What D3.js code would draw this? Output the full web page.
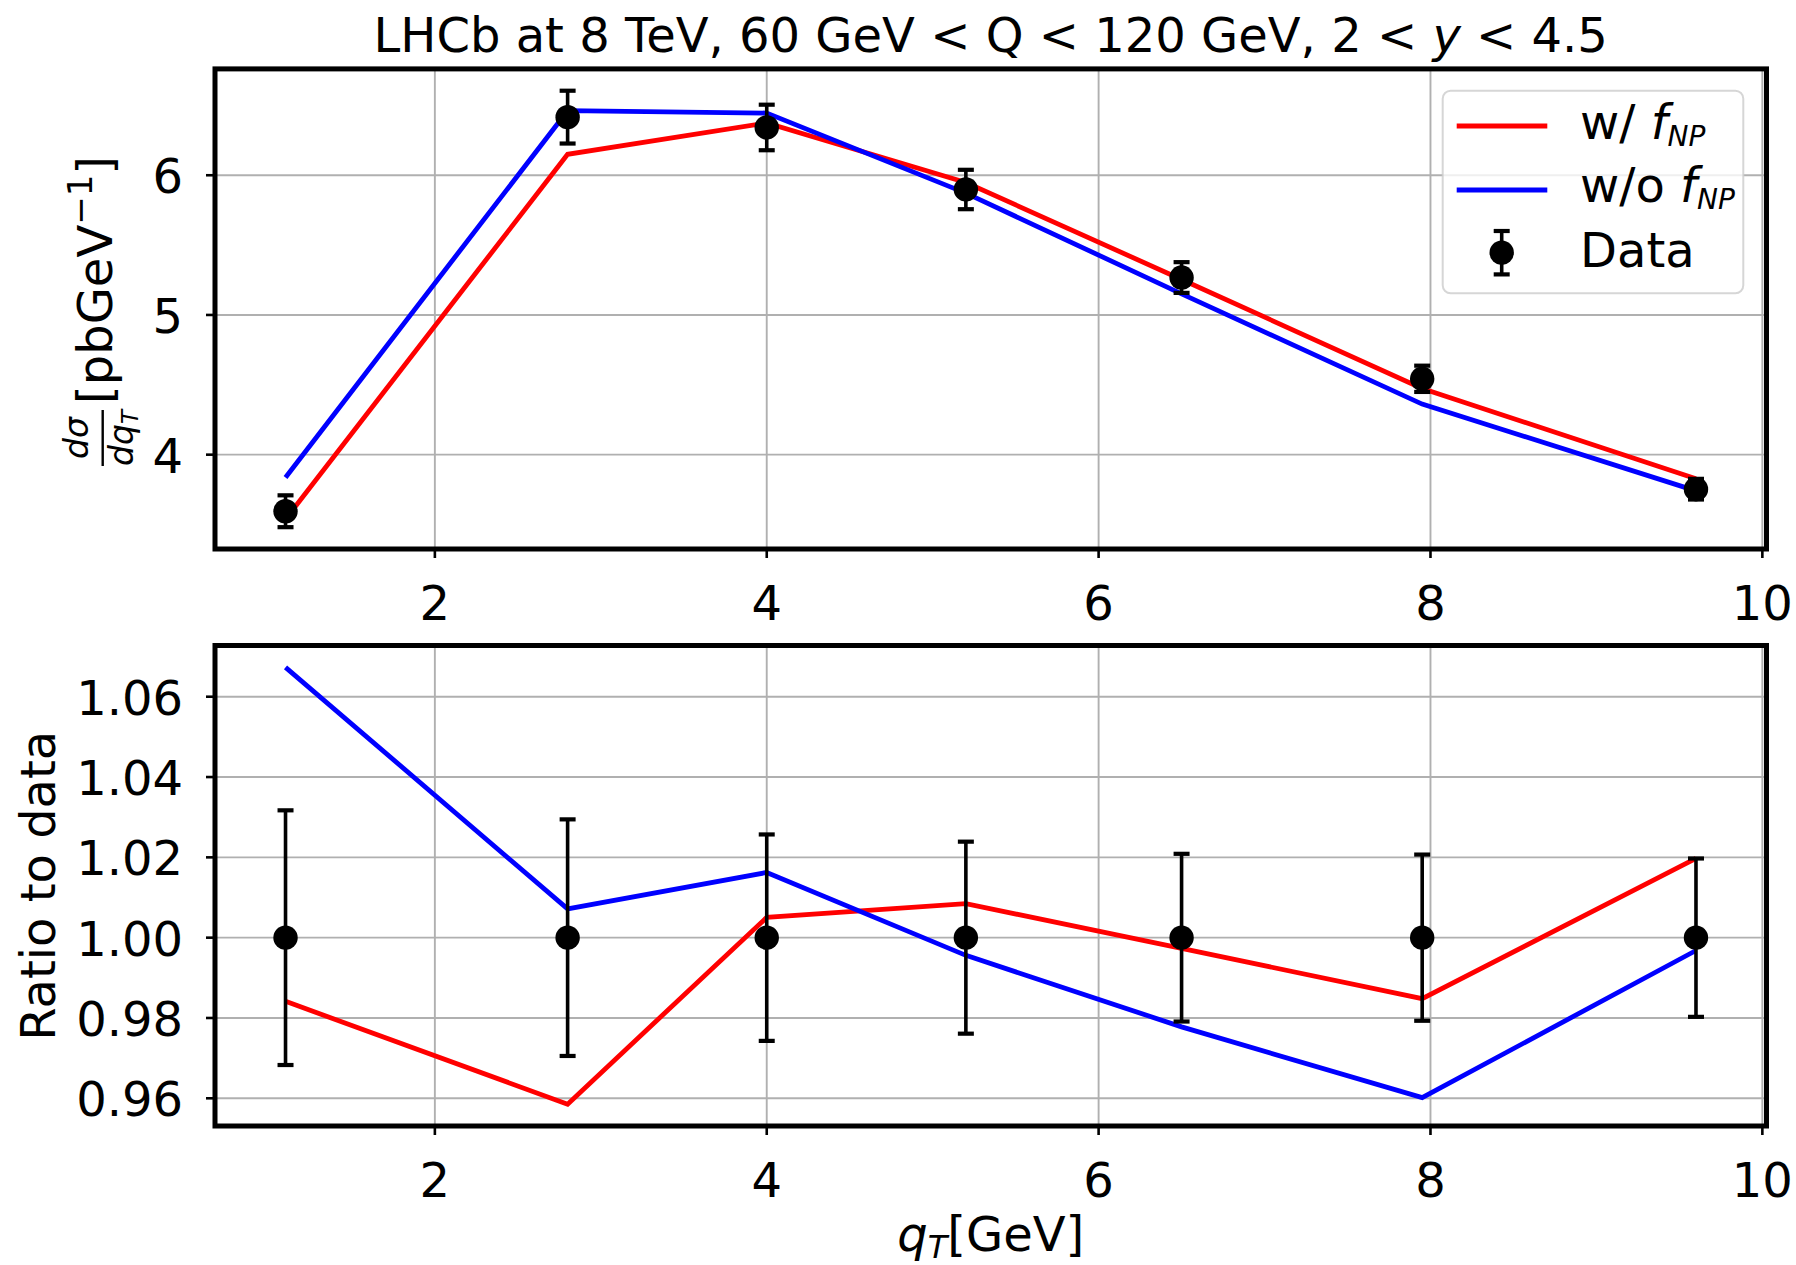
<!DOCTYPE html>
<html>
<head>
<meta charset="utf-8">
<script src="https://cdn.jsdelivr.net/npm/d3@7"></script>
<style>
  html, body { margin: 0; padding: 0; background: #ffffff; }
  svg { display: block; }
  text { font-family: "DejaVu Sans", sans-serif; fill: #000; }
</style>
</head>
<body>
<script>
// Bin centres of the LHCb 8 TeV Z-boson q_T spectrum (GeV)
const qT = [1.1, 2.8, 4.0, 5.2, 6.5, 7.95, 9.6];
// Measured dσ/dq_T (pb/GeV) and its uncertainty
const dataXS = [3.595, 6.416, 6.342, 5.898, 5.268, 4.543, 3.753];
const dataErr = [0.114, 0.189, 0.163, 0.141, 0.110, 0.094, 0.074];
// Predictions with and without the non-perturbative factor f_NP
const withFNP = [3.538, 6.150, 6.374, 5.948, 5.254, 4.474, 3.827];
const withoutFNP = [3.837, 6.462, 6.445, 5.872, 5.151, 4.362, 3.741];
// Tick values
const xTicks = [2, 4, 6, 8, 10];
const yTicksXS = [4, 5, 6];
const yTicksRatio = [0.96, 0.98, 1.00, 1.02, 1.04, 1.06];

const W = 1796, H = 1265;
const left = 215, right = 1766.5;
const topPanel = { top: 68.9, bottom: 549 };
const ratioPanel = { top: 645.5, bottom: 1126 };

const svg = d3.select("body").append("svg")
  .attr("width", W).attr("height", H)
  .attr("viewBox", `0 0 ${W} ${H}`);
svg.append("rect").attr("width", W).attr("height", H).attr("fill", "#fff");

// Axis range padded by 5% on each side, like the default autoscale
function padded(lo, hi) {
  const m = (hi - lo) * 0.05;
  return [lo - m, hi + m];
}

const x = d3.scaleLinear().domain(padded(d3.min(qT), d3.max(qT))).range([left, right]);

// Ratio series
const ratioData = dataXS.map(() => 1);
const ratioErr = dataErr.map((e, i) => e / dataXS[i]);
const ratioWith = withFNP.map((v, i) => v / dataXS[i]);
const ratioWithout = withoutFNP.map((v, i) => v / dataXS[i]);

const xsLo = d3.min([...dataXS.map((v, i) => v - dataErr[i]), ...withFNP, ...withoutFNP]);
const xsHi = d3.max([...dataXS.map((v, i) => v + dataErr[i]), ...withFNP, ...withoutFNP]);
const yTop = d3.scaleLinear().domain(padded(xsLo, xsHi)).range([topPanel.bottom, topPanel.top]);

const rLo = d3.min([...ratioErr.map(e => 1 - e), ...ratioWith, ...ratioWithout]);
const rHi = d3.max([...ratioErr.map(e => 1 + e), ...ratioWith, ...ratioWithout]);
const yRatio = d3.scaleLinear().domain(padded(rLo, rHi)).range([ratioPanel.bottom, ratioPanel.top]);

const RED = "#ff0000", BLUE = "#0000ff";

function drawPanel(panel, y, yTicks, yFmt, series, values, errs) {
  const g = svg.append("g");

  // grid
  const grid = g.append("g");
  grid.selectAll("line.gx").data(xTicks.filter(t => x(t) > left + 1 && x(t) < right - 1))
    .join("line")
    .attr("x1", d => x(d)).attr("x2", d => x(d))
    .attr("y1", panel.top).attr("y2", panel.bottom)
    .attr("stroke", "#b0b0b0").attr("stroke-width", 1.9);
  grid.selectAll("line.gy").data(yTicks).join("line")
    .attr("x1", left).attr("x2", right)
    .attr("y1", d => y(d)).attr("y2", d => y(d))
    .attr("stroke", "#b0b0b0").attr("stroke-width", 1.9);

  // model curves
  const line = d3.line().x((d, i) => x(qT[i])).y(d => y(d));
  series.forEach(s => {
    g.append("path").datum(s.values)
      .attr("d", line)
      .attr("fill", "none")
      .attr("stroke", s.color)
      .attr("stroke-width", 4.8)
      .attr("stroke-linejoin", "miter");
  });

  // data with error bars
  const pts = g.append("g").selectAll("g").data(values.map((v, i) => ({ x: qT[i], v, e: errs[i] })))
    .join("g");
  pts.append("line")
    .attr("x1", d => x(d.x)).attr("x2", d => x(d.x))
    .attr("y1", d => y(d.v - d.e)).attr("y2", d => y(d.v + d.e))
    .attr("stroke", "#000").attr("stroke-width", 3.6);
  [-1, 1].forEach(sgn => {
    pts.append("line")
      .attr("x1", d => x(d.x) - 8).attr("x2", d => x(d.x) + 8)
      .attr("y1", d => y(d.v + sgn * d.e)).attr("y2", d => y(d.v + sgn * d.e))
      .attr("stroke", "#000").attr("stroke-width", 4.2);
  });
  pts.append("circle")
    .attr("cx", d => x(d.x)).attr("cy", d => y(d.v)).attr("r", 12.2)
    .attr("fill", "#000");

  // frame
  g.append("rect")
    .attr("x", left).attr("y", panel.top)
    .attr("width", right - left).attr("height", panel.bottom - panel.top)
    .attr("fill", "none").attr("stroke", "#000").attr("stroke-width", 5);

  // x ticks
  const xt = g.append("g").selectAll("g").data(xTicks).join("g");
  xt.append("line")
    .attr("x1", d => x(d)).attr("x2", d => x(d))
    .attr("y1", panel.bottom).attr("y2", panel.bottom + 9)
    .attr("stroke", "#000").attr("stroke-width", 2.6);
  xt.append("text")
    .attr("x", d => x(d)).attr("y", panel.bottom + 71)
    .attr("text-anchor", "middle").attr("font-size", 48)
    .text(d => d3.format("d")(d));

  // y ticks
  const yt = g.append("g").selectAll("g").data(yTicks).join("g");
  yt.append("line")
    .attr("x1", left - 9).attr("x2", left)
    .attr("y1", d => y(d)).attr("y2", d => y(d))
    .attr("stroke", "#000").attr("stroke-width", 2.6);
  yt.append("text")
    .attr("x", 183).attr("y", d => y(d) + 18)
    .attr("text-anchor", "end").attr("font-size", 48)
    .text(d => yFmt(d));
}

drawPanel(topPanel, yTop, yTicksXS, d3.format("d"),
  [{ values: withFNP, color: RED }, { values: withoutFNP, color: BLUE }],
  dataXS, dataErr);
drawPanel(ratioPanel, yRatio, yTicksRatio, d3.format(".2f"),
  [{ values: ratioWith, color: RED }, { values: ratioWithout, color: BLUE }],
  ratioData, ratioErr);

// Title
const title = svg.append("text")
  .attr("x", (left + right) / 2).attr("y", 52)
  .attr("text-anchor", "middle").attr("font-size", 48);
title.append("tspan").text("LHCb at 8 TeV, 60 GeV < Q < 120 GeV, 2 < ");
title.append("tspan").attr("font-style", "italic").text("y");
title.append("tspan").text(" < 4.5");

// Upper y label: dσ/dq_T [pbGeV^-1]
const yl = svg.append("g").attr("transform", "translate(112,466) rotate(-90)");
yl.append("text").attr("x", 28).attr("y", -23.7)
  .attr("text-anchor", "middle").attr("font-size", 33).attr("font-style", "italic")
  .text("dσ");
yl.append("line").attr("x1", 0).attr("x2", 56).attr("y1", -9.3).attr("y2", -9.3)
  .attr("stroke", "#000").attr("stroke-width", 2.4);
const den = yl.append("text").attr("x", 28).attr("y", 21.3)
  .attr("text-anchor", "middle").attr("font-size", 33).attr("font-style", "italic");
den.append("tspan").text("dq");
den.append("tspan").attr("font-size", 23).attr("dy", 5).text("T");
const unit = yl.append("text").attr("x", 62).attr("y", 0).attr("font-size", 48);
unit.append("tspan").text("[pbGeV");
unit.append("tspan").attr("font-size", 34).attr("dy", -20).text("−1");
unit.append("tspan").attr("dy", 20).text("]");

// Lower y label
svg.append("text")
  .attr("transform", `translate(55,${(ratioPanel.top + ratioPanel.bottom) / 2}) rotate(-90)`)
  .attr("text-anchor", "middle").attr("font-size", 48)
  .text("Ratio to data");

// x label
const xl = svg.append("text")
  .attr("x", (left + right) / 2).attr("y", 1251)
  .attr("text-anchor", "middle").attr("font-size", 48);
xl.append("tspan").attr("font-style", "italic").text("q");
xl.append("tspan").attr("font-style", "italic").attr("font-size", 32).attr("dy", 7).text("T");
xl.append("tspan").attr("dy", -7).text("[GeV]");

// Legend
const leg = svg.append("g");
leg.append("rect")
  .attr("x", 1442.7).attr("y", 90.7).attr("width", 300.6).attr("height", 202.6)
  .attr("rx", 8).attr("ry", 8)
  .attr("fill", "#fff").attr("fill-opacity", 0.8)
  .attr("stroke", "#cccccc").attr("stroke-opacity", 0.8).attr("stroke-width", 2);

const legendItems = [
  { kind: "line", color: RED, label: "w/ ", y: 126, base: 139.3 },
  { kind: "line", color: BLUE, label: "w/o ", y: 190, base: 201.7 },
  { kind: "data", label: "Data", y: 252.7, base: 266.7 }
];
legendItems.forEach(item => {
  if (item.kind === "line") {
    leg.append("line").attr("x1", 1456.7).attr("x2", 1547.3)
      .attr("y1", item.y).attr("y2", item.y)
      .attr("stroke", item.color).attr("stroke-width", 4.8);
    const t = leg.append("text").attr("x", 1580).attr("y", item.base).attr("font-size", 48);
    t.append("tspan").text(item.label);
    t.append("tspan").attr("font-style", "italic").text("f");
    t.append("tspan").attr("font-style", "italic").attr("font-size", 28).attr("dy", 7).text("NP");
  } else {
    const cx = 1501.7;
    leg.append("line").attr("x1", cx).attr("x2", cx)
      .attr("y1", item.y - 21.7).attr("y2", item.y + 21.7)
      .attr("stroke", "#000").attr("stroke-width", 3.6);
    [-21.7, 21.7].forEach(o => {
      leg.append("line").attr("x1", cx - 8).attr("x2", cx + 8)
        .attr("y1", item.y + o).attr("y2", item.y + o)
        .attr("stroke", "#000").attr("stroke-width", 4.2);
    });
    leg.append("circle").attr("cx", cx).attr("cy", item.y).attr("r", 12.2).attr("fill", "#000");
    leg.append("text").attr("x", 1580).attr("y", item.base).attr("font-size", 48).text(item.label);
  }
});
</script>
</body>
</html>
